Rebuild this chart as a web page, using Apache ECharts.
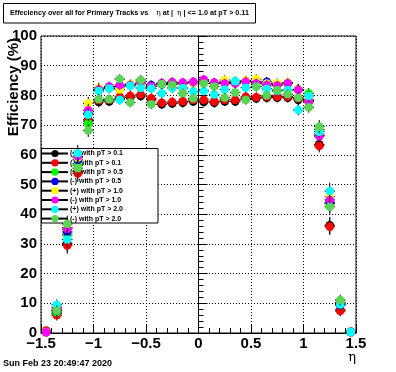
<!DOCTYPE html>
<html><head><meta charset="utf-8">
<script src="https://cdn.jsdelivr.net/npm/echarts@6/dist/echarts.min.js"></script>
<style>html,body{margin:0;padding:0;background:#fff}#c{width:396px;height:372px}</style>
</head><body><div id="c"></div>
<script>
// ---- data ----
const binCenters = [-1.45,-1.35,-1.25,-1.15,-1.05,-0.95,-0.85,-0.75,-0.65,-0.55,-0.45,-0.35,-0.25,-0.15,-0.05,
                     0.05,0.15,0.25,0.35,0.45,0.55,0.65,0.75,0.85,0.95,1.05,1.15,1.25,1.35,1.45];
const binHalfWidth = 0.05;
const binErrors = [0.5,1.8,2.8,2.8,2.2,1.8,1.6,1.6,1.6,1.6,1.6,1.6,1.6,1.6,1.6,
                   1.6,1.6,1.6,1.6,1.6,1.6,1.6,1.6,1.6,1.8,1.8,2.2,2.8,1.8,0.5];

const seriesNames = ["(+) with pT > 0.1","(-) with pT > 0.1","(+) with pT > 0.5","(-) with pT > 0.5",
                     "(+) with pT > 1.0","(-) with pT > 1.0","(+) with pT > 2.0","(-) with pT > 2.0"];
const seriesColors = ["#000000","#ff0000","#00ff00","#0000ff","#ffff00","#ff00ff","#00ffff","#59d454"];

const posPt01 = [0.5,6.5,30.2,54.5,71.8,77.8,78.0,79.0,79.4,79.8,78.5,77.0,77.3,77.5,78.0,
                 77.8,77.5,78.0,78.0,79.0,79.0,79.2,79.2,79.2,78.5,78.0,63.5,36.3,7.8,0.3];
const negPt01 = [0.8,6.0,29.5,53.7,71.3,78.3,78.5,79.5,79.9,80.3,79.0,77.5,77.8,78.0,78.5,
                 78.5,78.0,78.5,78.5,79.5,79.4,79.6,79.6,79.6,79.0,78.5,63.0,35.8,7.4,0.5];
const posPt05 = [0.3,7.0,33.0,56.5,70.5,82.0,82.8,83.0,83.5,84.0,83.2,83.8,84.0,84.0,84.3,
                 84.8,84.0,84.5,84.2,84.8,84.5,84.0,83.8,84.0,82.0,80.7,68.5,43.5,10.3,0.3];
const negPt05 = [0.3,7.5,34.0,58.3,74.0,82.0,82.5,83.0,83.5,84.0,83.5,83.8,84.0,84.0,84.3,
                 84.8,84.0,84.5,84.2,84.8,84.5,84.6,83.8,84.0,82.0,78.3,66.5,44.0,9.4,0.3];
const posPt10 = [0.3,8.0,35.5,59.0,77.3,82.5,82.5,82.0,83.8,84.0,83.0,84.0,84.3,84.0,84.3,
                 84.8,84.0,85.2,84.3,85.0,85.5,84.0,84.1,84.3,82.0,78.3,67.0,45.9,10.0,0.3];
const negPt10 = [0.2,8.5,35.0,59.5,75.0,82.0,83.0,83.5,83.5,84.5,83.0,84.2,84.5,84.3,84.6,
                 85.3,84.3,84.0,84.0,84.6,84.1,83.5,83.3,84.1,81.8,77.9,66.3,44.8,9.8,0.3];
const posPt20 = [null,9.5,31.5,60.5,73.5,81.5,82.3,78.5,83.2,82.5,82.3,80.7,82.5,82.5,81.3,
                 81.5,80.3,82.0,84.8,82.6,83.0,82.2,81.5,81.8,75.1,79.8,67.8,47.8,9.6,0.3];
const negPt20 = [null,7.5,36.7,55.5,68.2,78.7,78.7,85.5,77.6,85.2,77.0,83.8,83.6,80.7,79.0,
                 84.0,83.0,79.2,81.0,78.5,82.9,80.0,81.8,80.4,79.2,76.0,69.5,42.5,11.1,null];
const seriesValues = [posPt01,negPt01,posPt05,negPt05,posPt10,negPt10,posPt20,negPt20];

const xTickLabels = {"-1.5":"\u22121.5","-1":"\u22121","-0.5":"\u22120.5","0":"0","0.5":"0.5","1":"1","1.5":"1.5"};

// ---- chart ----
const FONT = "'Liberation Sans', Arial, Helvetica, sans-serif";
const chart = echarts.init(document.getElementById('c'), null, {renderer:'canvas'});

function makeRender(color){
  return function(params, api){
    const x = api.value(0), y = api.value(1), e = api.value(2);
    const c = api.coord([x, y]);
    const l = api.coord([x - binHalfWidth, y]);
    const r = api.coord([x + binHalfWidth, y]);
    const t = api.coord([x, Math.min(100, y + e)]);
    const b = api.coord([x, Math.max(0, y - e)]);
    return {type:'group', children:[
      {type:'line', shape:{x1:l[0], y1:c[1], x2:r[0], y2:c[1]}, style:{stroke:'#000', lineWidth:1}},
      {type:'line', shape:{x1:c[0], y1:t[1], x2:c[0], y2:b[1]}, style:{stroke:'#000', lineWidth:1}},
      {type:'circle', shape:{cx:c[0], cy:c[1], r:4.3}, style:{fill:color}}
    ]};
  };
}

const series = [];
seriesValues.forEach((vals, i) => {
  const data = [];
  vals.forEach((v, k) => { if (v !== null) data.push([binCenters[k], v, binErrors[k]]); });
  series.push({type:'custom', name:'data' + i, renderItem: makeRender(seriesColors[i]), data: data,
               z: 2, silent: true, animation: false, clip: false});
});
// legend entries (line + marker, like ROOT "lp")
seriesNames.forEach((n, i) => {
  series.push({type:'line', name:n, data:[], symbol:'circle', itemStyle:{color:seriesColors[i]},
               lineStyle:{color:'#000', width:1}, animation:false});
});

const axisCommon = {
  axisLine:{show:true, lineStyle:{color:'#000', width:1}},
  axisTick:{show:true, inside:true, length:9, lineStyle:{color:'#000'}},
  minorTick:{show:true, splitNumber:5, length:5, lineStyle:{color:'#000'}},
  splitLine:{show:true, lineStyle:{color:'#000', width:1, type:[1,2]}},
  axisLabel:{fontFamily:FONT, fontWeight:'bold', fontSize:15, color:'#000'}
};

chart.setOption({
  animation:false,
  backgroundColor:'#fff',
  grid:{left:41, right:40, top:36, bottom:39, show:true, borderColor:'#000', borderWidth:1, backgroundColor:'transparent'},
  xAxis:Object.assign({type:'value', min:-1.5, max:1.5, interval:0.5}, axisCommon,
    {axisLabel:Object.assign({}, axisCommon.axisLabel, {margin:3, formatter:v => xTickLabels[String(v)]})}),
  yAxis:Object.assign({type:'value', min:0, max:100, interval:10}, axisCommon,
    {axisLabel:Object.assign({}, axisCommon.axisLabel, {margin:4})}),
  legend:{orient:'vertical', left:41, top:149, itemWidth:26, itemHeight:9, itemGap:0.3, padding:0,
    z:1.5, selectedMode:false, data:seriesNames,
    textStyle:{fontFamily:FONT, fontWeight:'bold', fontSize:7, color:'#000', lineHeight:9, padding:[0,0,0,-3]}},
  graphic:[
    {type:'rect', z:1, shape:{x:41.5, y:148.5, width:116.5, height:74.5}, style:{fill:'#fff', stroke:'#000', lineWidth:1}},
    {type:'rect', z:5, shape:{x:3.5, y:3.5, width:252, height:19.5}, style:{fill:'#fff', stroke:'#000', lineWidth:1}},
    {type:'text', z:6, x:10, y:13.5, style:{
      text:'{b|Effeciency over all for Primary Tracks vs    }{g|\u03b7}{b| at |  }{g|\u03b7}{b| | <= 1.0 at pT > 0.11}',
      verticalAlign:'middle', align:'left',
      rich:{b:{fontFamily:FONT, fontWeight:'bold', fontSize:7.2, fill:'#000'},
            g:{fontFamily:"'DejaVu Serif', serif", fontSize:7.5, fill:'#000'}}}},
    {type:'text', z:6, x:14, y:38, rotation:Math.PI/2, style:{text:'Efficiency (%)', align:'right', verticalAlign:'middle',
      font:"bold 15px " + FONT, fill:'#000'}},
    {type:'text', z:6, x:356, y:358, style:{text:'\u03b7', align:'right', verticalAlign:'middle',
      font:"13px 'DejaVu Serif', serif", fill:'#000'}},
    {type:'text', z:6, x:3, y:364, style:{text:'Sun Feb 23 20:49:47 2020', align:'left', verticalAlign:'middle',
      font:"bold 9px " + FONT, fill:'#000'}}
  ],
  series:series
});
</script></body></html>
